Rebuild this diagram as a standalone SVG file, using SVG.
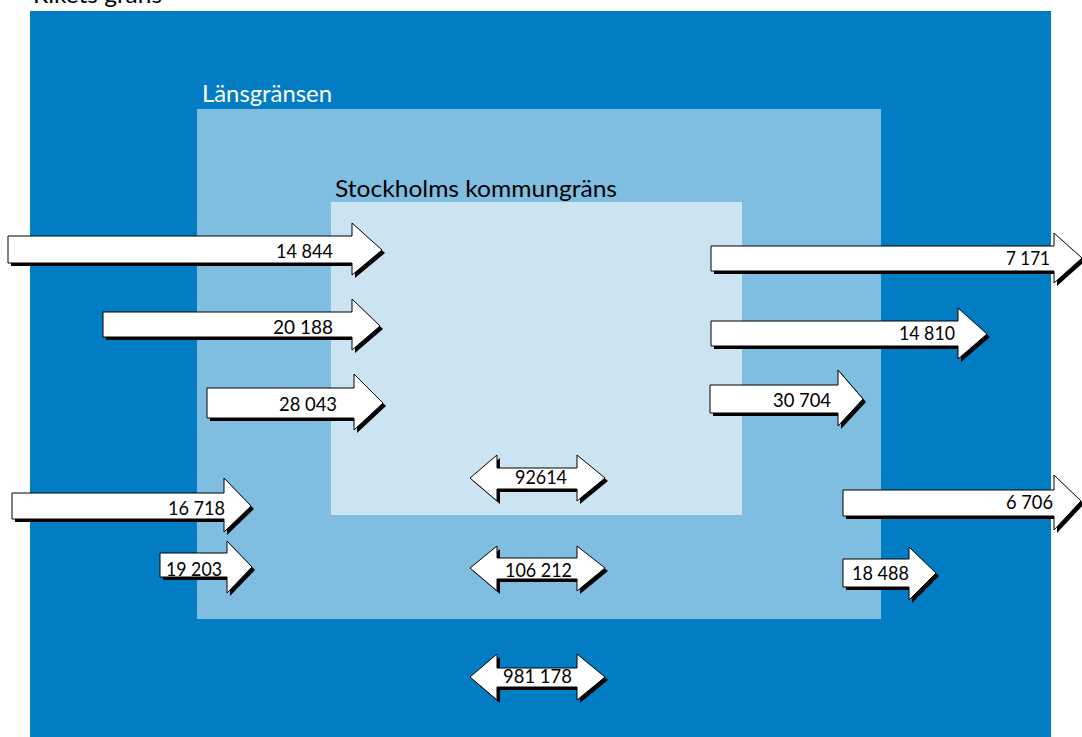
<svg xmlns="http://www.w3.org/2000/svg" width="1082" height="737" viewBox="0 0 1082 737">
<style>
.t{font-family:Lato,"Open Sans","Liberation Sans",sans-serif;}
.big{font-size:24px;}
.num{font-size:19px;fill:#000;}
.arr{fill:#fff;stroke:#000;stroke-width:1;stroke-linejoin:miter;}
.sh{fill:#000;}
</style>
<rect width="1082" height="737" fill="#fff"/>
<g id="rikets">
<rect x="30" y="11" width="1021" height="726" fill="#027CC3"/>
<text class="t big" x="33" y="3" fill="#000" textLength="129" lengthAdjust="spacingAndGlyphs">Rikets gräns</text>
</g>
<g id="lan">
<rect x="197" y="109" width="684" height="510" fill="#80BEE1"/>
<text class="t big" x="202" y="102" fill="#fff" textLength="130" lengthAdjust="spacingAndGlyphs">Länsgränsen</text>
</g>
<g id="kommun">
<rect x="331" y="202" width="411" height="313" fill="#CCE4F2"/>
<text class="t big" x="335" y="197" fill="#000" textLength="282" lengthAdjust="spacingAndGlyphs">Stockholms kommungräns</text>
</g>
<g id="connectors">
<g id="a14844">
<path class="sh" transform="translate(3,3)" d="M8,236 H352 V223 L382,250 L352,275 V263 H8 Z"/>
<path class="arr" d="M8,236 H352 V223 L382,250 L352,275 V263 H8 Z"/>
<text class="t num" x="276" y="258" textLength="57" lengthAdjust="spacingAndGlyphs">14 844</text>
</g>
<g id="a20188">
<path class="sh" transform="translate(3,3)" d="M103,312 H352 V299 L380,326 L352,350 V337 H103 Z"/>
<path class="arr" d="M103,312 H352 V299 L380,326 L352,350 V337 H103 Z"/>
<text class="t num" x="273" y="334" textLength="60" lengthAdjust="spacingAndGlyphs">20 188</text>
</g>
<g id="a28043">
<path class="sh" transform="translate(3,3)" d="M207,388 H354 V374 L383,403 L354,430 V418 H207 Z"/>
<path class="arr" d="M207,388 H354 V374 L383,403 L354,430 V418 H207 Z"/>
<text class="t num" x="279" y="411" textLength="58" lengthAdjust="spacingAndGlyphs">28 043</text>
</g>
<g id="a16718">
<path class="sh" transform="translate(3,3)" d="M12,493 H224 V478 L251,506 L224,532 V519 H12 Z"/>
<path class="arr" d="M12,493 H224 V478 L251,506 L224,532 V519 H12 Z"/>
<text class="t num" x="168" y="515" textLength="57" lengthAdjust="spacingAndGlyphs">16 718</text>
</g>
<g id="a19203">
<path class="sh" transform="translate(3,3)" d="M160,553 H227 V541 L252,567 L227,593 V577 H160 Z"/>
<path class="arr" d="M160,553 H227 V541 L252,567 L227,593 V577 H160 Z"/>
<text class="t num" x="166" y="576" textLength="56" lengthAdjust="spacingAndGlyphs">19 203</text>
</g>
<g id="b7171">
<path class="sh" transform="translate(3,3)" d="M711,246 H1054 V233 L1082,258 L1054,283 V271 H711 Z"/>
<path class="arr" d="M711,246 H1054 V233 L1082,258 L1054,283 V271 H711 Z"/>
<text class="t num" x="1006" y="265" textLength="44" lengthAdjust="spacingAndGlyphs">7 171</text>
</g>
<g id="b14810">
<path class="sh" transform="translate(3,3)" d="M711,321 H958 V308 L987,334 L958,359 V346 H711 Z"/>
<path class="arr" d="M711,321 H958 V308 L987,334 L958,359 V346 H711 Z"/>
<text class="t num" x="899" y="340" textLength="56" lengthAdjust="spacingAndGlyphs">14 810</text>
</g>
<g id="b30704">
<path class="sh" transform="translate(3,3)" d="M710,385 H838 V370 L863,399 L838,426 V413 H710 Z"/>
<path class="arr" d="M710,385 H838 V370 L863,399 L838,426 V413 H710 Z"/>
<text class="t num" x="773" y="407" textLength="58" lengthAdjust="spacingAndGlyphs">30 704</text>
</g>
<g id="b6706">
<path class="sh" transform="translate(3,3)" d="M843,490 H1054 V475 L1081,501 L1054,530 V516 H843 Z"/>
<path class="arr" d="M843,490 H1054 V475 L1081,501 L1054,530 V516 H843 Z"/>
<text class="t num" x="1006" y="509" textLength="47" lengthAdjust="spacingAndGlyphs">6 706</text>
</g>
<g id="b18488">
<path class="sh" transform="translate(3,3)" d="M843,559 H909 V547 L936,573 L909,600 V587 H843 Z"/>
<path class="arr" d="M843,559 H909 V547 L936,573 L909,600 V587 H843 Z"/>
<text class="t num" x="852" y="580" textLength="57" lengthAdjust="spacingAndGlyphs">18 488</text>
</g>
<g id="d92614">
<path class="sh" transform="translate(3,3)" d="M470,478 L497,455 V468 H577 V455 L605,478 L577,501 V489 H497 V501 Z"/>
<path class="arr" d="M470,478 L497,455 V468 H577 V455 L605,478 L577,501 V489 H497 V501 Z"/>
<text class="t num" x="515" y="484" textLength="52" lengthAdjust="spacingAndGlyphs">92614</text>
</g>
<g id="d106212">
<path class="sh" transform="translate(3,3)" d="M470,568 L497,546 V558 H577 V546 L605,568 L577,591 V579 H497 V591 Z"/>
<path class="arr" d="M470,568 L497,546 V558 H577 V546 L605,568 L577,591 V579 H497 V591 Z"/>
<text class="t num" x="505" y="577" textLength="67" lengthAdjust="spacingAndGlyphs">106 212</text>
</g>
<g id="d981178">
<path class="sh" transform="translate(3,3)" d="M470,677 L497,654 V668 H577 V654 L605,677 L577,700 V687 H497 V700 Z"/>
<path class="arr" d="M470,677 L497,654 V668 H577 V654 L605,677 L577,700 V687 H497 V700 Z"/>
<text class="t num" x="503" y="683" textLength="69" lengthAdjust="spacingAndGlyphs">981 178</text>
</g>
</g>
</svg>
